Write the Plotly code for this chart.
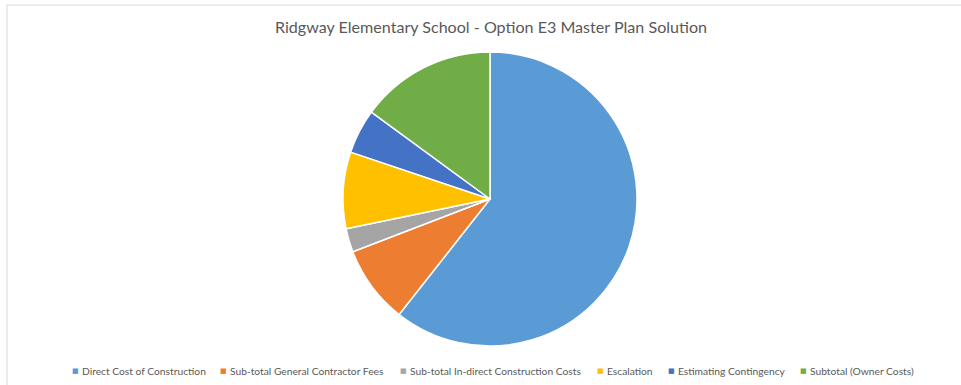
import plotly.graph_objects as go

labels = ["Direct Cost of Construction", "Sub-total General Contractor Fees",
          "Sub-total In-direct Construction Costs", "Escalation",
          "Estimating Contingency", "Subtotal (Owner Costs)"]
values = [60.6, 8.55, 2.59, 8.42, 4.89, 14.94]
colors = ["#5B9BD5", "#ED7D31", "#A5A5A5", "#FFC000", "#4472C4", "#70AD47"]

# layout: legend marker centers (px) in the figure
legend_marker_px = [75, 223, 403, 600, 671, 803]
legend_y_px = 371

W, H = 961, 385
L, R, T, B = 20, 1, 52, 39
pw, ph = W - L - R, H - T - B

fig = go.Figure(go.Pie(
    labels=labels, values=values, sort=False, direction="clockwise", rotation=0,
    marker=dict(colors=colors, line=dict(color="white", width=1.5)),
    textinfo="none", hoverinfo="label+value", showlegend=False,
))

font_fam = "Lato, Open Sans, sans-serif"
ann = []
ly = -(legend_y_px - (T + ph)) / ph
for lab, col, mx in zip(labels, colors, legend_marker_px):
    ann.append(dict(xref="paper", yref="paper", x=(mx - L) / pw, y=ly,
                    text="■", showarrow=False, xanchor="center", yanchor="middle",
                    font=dict(size=7, color=col, family="DejaVu Sans")))
    ann.append(dict(xref="paper", yref="paper", x=(mx + 5 - L) / pw, y=ly,
                    text=lab, showarrow=False, xanchor="left", yanchor="middle",
                    font=dict(size=10.25, color="#595959", family=font_fam)))

fig.update_layout(
    width=W, height=H,
    margin=dict(l=L, r=R, t=T, b=B),
    paper_bgcolor="white", plot_bgcolor="white",
    font=dict(family=font_fam, color="#595959"),
    title=dict(text="Ridgway Elementary School - Option E3 Master Plan Solution",
               x=491 / W, xanchor="center",
               y=1 - 27 / H, yanchor="middle", yref="container",
               font=dict(size=16.1, color="#595959", family=font_fam)),
    annotations=ann,
    shapes=[dict(type="rect", xref="paper", yref="paper",
                 x0=(7 - L) / pw, x1=1.05, y0=-0.3, y1=1 + (T - 5) / ph,
                 line=dict(color="#D9D9D9", width=1), layer="below")],
)

fig.write_html("out.html")
